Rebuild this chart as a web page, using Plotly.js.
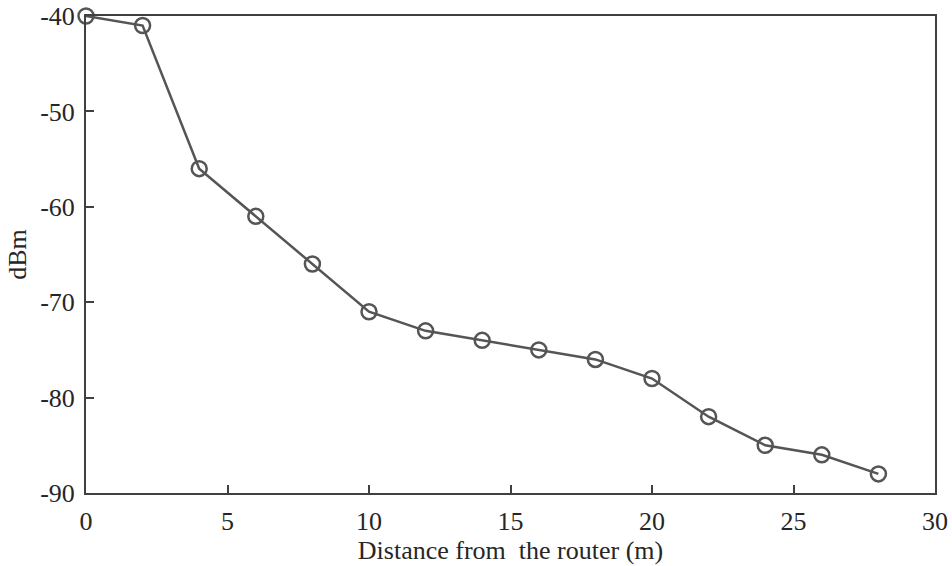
<!DOCTYPE html>
<html>
<head>
<meta charset="utf-8">
<script src="https://cdn.plot.ly/plotly-3.0.1.min.js"></script>
<style>html,body{margin:0;padding:0;background:#fff;}#chart{width:952px;height:566px;}</style>
</head>
<body>
<div id="chart"></div>
<script>
const distance = [0, 2, 4, 6, 8, 10, 12, 14, 16, 18, 20, 22, 24, 26, 28];
const signal = [-40, -41, -56, -61, -66, -71, -73, -74, -75, -76, -78, -82, -85, -86, -88];
const xTicks = [0, 5, 10, 15, 20, 25, 30];
const yTicks = [-90, -80, -70, -60, -50, -40];

const font = {family: '"Liberation Serif", "Times New Roman", serif', size: 26, color: '#262626'};
const axisCommon = {
  showgrid: false, zeroline: false, showline: true, mirror: true,
  linecolor: '#404040', linewidth: 2,
  ticks: 'inside', ticklen: 8, tickwidth: 2, tickcolor: '#404040',
  tickfont: font, tickmode: 'array'
};

const trace = {
  x: distance, y: signal, type: 'scatter', mode: 'lines+markers',
  line: {color: '#555555', width: 2.5},
  marker: {symbol: 'circle-open', size: 15, color: '#555555', line: {width: 2.5, color: '#555555'}},
  cliponaxis: false
};

const layout = {
  width: 952, height: 566,
  margin: {l: 86, r: 17, t: 16, b: 73},
  paper_bgcolor: '#fff', plot_bgcolor: '#fff',
  showlegend: false,
  font: font,
  xaxis: Object.assign({}, axisCommon, {
    range: [0, 30], tickvals: xTicks, ticktext: xTicks.map(String),
    ticklabelstandoff: 4,
    title: {text: 'Distance from&nbsp; the router (m)', font: font, standoff: 6}
  }),
  yaxis: Object.assign({}, axisCommon, {
    range: [-90, -40], tickvals: yTicks, ticktext: yTicks.map(String),
    ticklabelstandoff: 4,
    title: {text: 'dBm', font: font, standoff: 6}
  })
};

Plotly.newPlot('chart', [trace], layout, {displayModeBar: false, staticPlot: true});
</script>
</body>
</html>
